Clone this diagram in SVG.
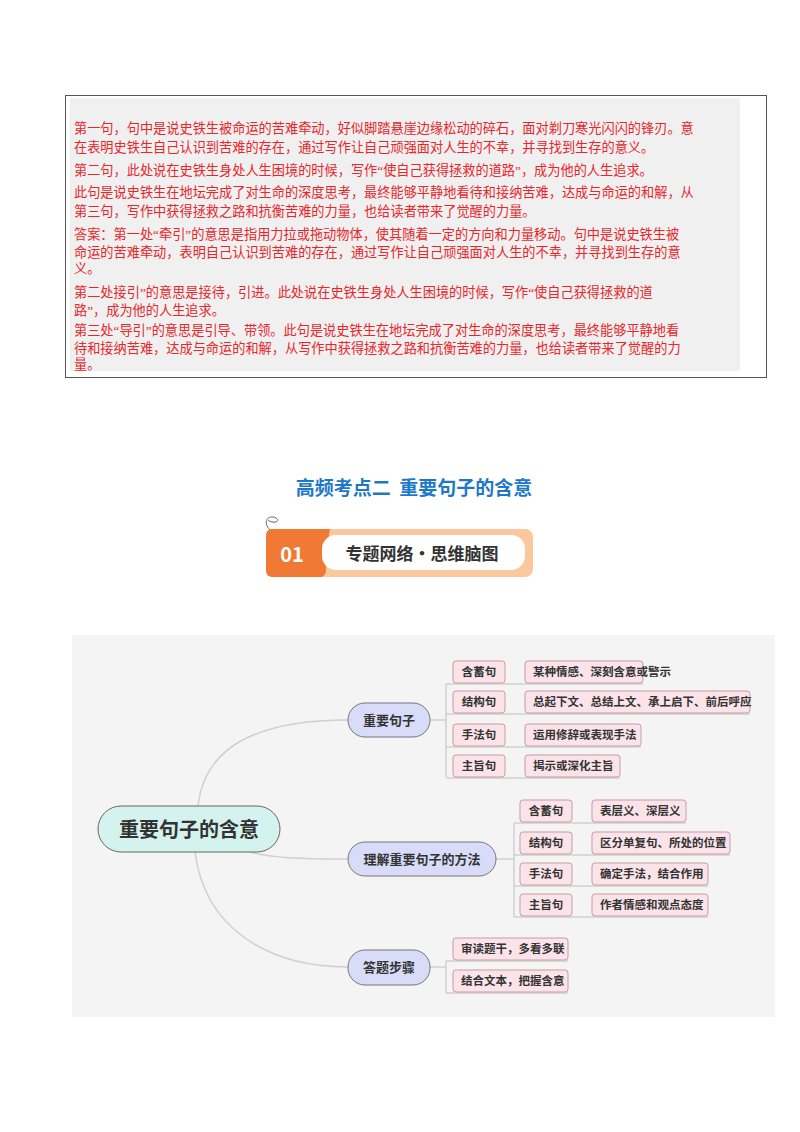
<svg xmlns="http://www.w3.org/2000/svg" width="800" height="1132" viewBox="0 0 800 1132">
<style>
.r{font-family:"Liberation Serif","Noto Sans CJK SC",serif;font-size:13.2px;fill:#e8262b}
.cn{font-family:"Noto Sans CJK SC",sans-serif;font-weight:bold;fill:#333}
.l{fill:#fbe3ea;stroke:#c99aa8;stroke-width:1}
.b{fill:#d9dcf8;stroke:#777;stroke-width:1}
.c{fill:none;stroke:#cfcfcf;stroke-width:1.5}
</style>
<rect width="800" height="1132" fill="#fff"/>
<rect x="65.5" y="95.5" width="701" height="282" fill="#fff" stroke="#555"/>
<rect x="70" y="98" width="670" height="273" fill="#f0f0f0"/>
<text class="r" x="74" y="133">第一句，句中是说史铁生被命运的苦难牵动，好似脚踏悬崖边缘松动的碎石，面对剃刀寒光闪闪的锋刃。意</text>
<text class="r" x="74" y="152">在表明史铁生自己认识到苦难的存在，通过写作让自己顽强面对人生的不幸，并寻找到生存的意义。</text>
<text class="r" x="74" y="175">第二句，此处说在史铁生身处人生困境的时候，写作“使自己获得拯救的道路”，成为他的人生追求。</text>
<text class="r" x="74" y="197">此句是说史铁生在地坛完成了对生命的深度思考，最终能够平静地看待和接纳苦难，达成与命运的和解，从</text>
<text class="r" x="74" y="216">第三句，写作中获得拯救之路和抗衡苦难的力量，也给读者带来了觉醒的力量。</text>
<text class="r" x="74" y="239">答案：第一处“牵引”的意思是指用力拉或拖动物体，使其随着一定的方向和力量移动。句中是说史铁生被</text>
<text class="r" x="74" y="257">命运的苦难牵动，表明自己认识到苦难的存在，通过写作让自己顽强面对人生的不幸，并寻找到生存的意</text>
<text class="r" x="74" y="273">义。</text>
<text class="r" x="74" y="297">第二处接引”的意思是接待，引进。此处说在史铁生身处人生困境的时候，写作“使自己获得拯救的道</text>
<text class="r" x="74" y="315">路”，成为他的人生追求。</text>
<text class="r" x="74" y="335">第三处“导引”的意思是引导、带领。此句是说史铁生在地坛完成了对生命的深度思考，最终能够平静地看</text>
<text class="r" x="74" y="353">待和接纳苦难，达成与命运的和解，从写作中获得拯救之路和抗衡苦难的力量，也给读者带来了觉醒的力</text>
<text class="r" x="74" y="369">量。</text>
<text x="414" y="495" text-anchor="middle" font-family="Noto Sans CJK SC,sans-serif" font-weight="bold" font-size="19" fill="#1e78c8" xml:space="preserve">高频考点二  重要句子的含意</text>
<g id="banner">
<rect x="266" y="529" width="267" height="48" rx="8" fill="#fbc79c"/>
<rect x="266" y="529" width="60" height="48" rx="6" fill="#f07a35"/>
<path d="M312 529 L330 529 L322 577 L300 577 Z" fill="#f07a35"/>
<rect x="322" y="535" width="203" height="35" rx="14" fill="#fff"/>
<text x="292" y="562" text-anchor="middle" font-family="Noto Sans CJK SC,sans-serif" font-weight="bold" font-size="20" fill="#fff">01</text>
<text x="422" y="560" text-anchor="middle" class="cn" font-size="17" fill="#222">专题网络·思维脑图</text>
<path d="M270 530 C262 522 268 514 276 518 C282 522 272 524 268 520" fill="none" stroke="#666" stroke-width="1"/>
</g>
<rect x="72" y="635" width="703" height="382" fill="#f4f4f4"/>
<g id="connectors">
<path class="c" d="M198 806 C205 740 270 720 348 720"/>
<path class="c" d="M250 852 C270 858 300 859 348 859"/>
<path class="c" d="M195 852 C205 930 270 967 348 967"/>
<path class="c" d="M430 720 L446 720 M446 684 L446 777 M446 684 L643 684 M446 714 L750 714 M446 747 L641 747 M446 778 L620 778"/>
<path class="c" d="M496 859 L514 859 M514 823 L514 917 M514 823 L686 823 M514 855 L730 855 M514 886 L708 886 M514 917 L708 917"/>
<path class="c" d="M430 967 L446 967 M446 961 L446 993 M446 961 L568 961 M446 993 L568 993"/>
</g>
<g id="main"><rect x="98" y="806" width="182" height="46" rx="23" fill="#d5f3ee" stroke="#666"/><text x="189" y="837" text-anchor="middle" class="cn" font-size="20" fill="#111">重要句子的含意</text></g>
<g id="b1"><rect class="b" x="348" y="703" width="82" height="34" rx="17"/><text x="389" y="725" text-anchor="middle" class="cn" font-size="13">重要句子</text></g>
<g id="b2"><rect class="b" x="348" y="842" width="148" height="34" rx="17"/><text x="422" y="864" text-anchor="middle" class="cn" font-size="13">理解重要句子的方法</text></g>
<g id="b3"><rect class="b" x="348" y="950" width="82" height="35" rx="17"/><text x="389" y="972" text-anchor="middle" class="cn" font-size="13">答题步骤</text></g>
<g font-size="11.5">
<g id="n1"><rect class="l" x="453" y="661" width="52" height="22" rx="3"/><text class="cn" x="479" y="676" text-anchor="middle">含蓄句</text></g>
<g id="n2"><rect class="l" x="525" y="661" width="118" height="22" rx="3"/><text class="cn" x="533" y="676">某种情感、深刻含意或警示</text></g>
<g id="n3"><rect class="l" x="453" y="691" width="52" height="22" rx="3"/><text class="cn" x="479" y="706" text-anchor="middle">结构句</text></g>
<g id="n4"><rect class="l" x="525" y="691" width="225" height="22" rx="3"/><text class="cn" x="533" y="706">总起下文、总结上文、承上启下、前后呼应</text></g>
<g id="n5"><rect class="l" x="453" y="724" width="52" height="22" rx="3"/><text class="cn" x="479" y="739" text-anchor="middle">手法句</text></g>
<g id="n6"><rect class="l" x="525" y="724" width="116" height="22" rx="3"/><text class="cn" x="533" y="739">运用修辞或表现手法</text></g>
<g id="n7"><rect class="l" x="453" y="755" width="52" height="22" rx="3"/><text class="cn" x="479" y="770" text-anchor="middle">主旨句</text></g>
<g id="n8"><rect class="l" x="525" y="755" width="95" height="22" rx="3"/><text class="cn" x="533" y="770">揭示或深化主旨</text></g>
<g id="m1"><rect class="l" x="520" y="800" width="52" height="22" rx="3"/><text class="cn" x="546" y="815" text-anchor="middle">含蓄句</text></g>
<g id="m2"><rect class="l" x="592" y="800" width="94" height="22" rx="3"/><text class="cn" x="600" y="815">表层义、深层义</text></g>
<g id="m3"><rect class="l" x="520" y="832" width="52" height="22" rx="3"/><text class="cn" x="546" y="847" text-anchor="middle">结构句</text></g>
<g id="m4"><rect class="l" x="592" y="832" width="138" height="22" rx="3"/><text class="cn" x="600" y="847">区分单复句、所处的位置</text></g>
<g id="m5"><rect class="l" x="520" y="863" width="52" height="22" rx="3"/><text class="cn" x="546" y="878" text-anchor="middle">手法句</text></g>
<g id="m6"><rect class="l" x="592" y="863" width="116" height="22" rx="3"/><text class="cn" x="600" y="878">确定手法，结合作用</text></g>
<g id="m7"><rect class="l" x="520" y="894" width="52" height="22" rx="3"/><text class="cn" x="546" y="909" text-anchor="middle">主旨句</text></g>
<g id="m8"><rect class="l" x="592" y="894" width="116" height="22" rx="3"/><text class="cn" x="600" y="909">作者情感和观点态度</text></g>
<g id="s1"><rect class="l" x="453" y="938" width="115" height="22" rx="3"/><text class="cn" x="461" y="953">审读题干，多看多联</text></g>
<g id="s2"><rect class="l" x="453" y="970" width="115" height="22" rx="3"/><text class="cn" x="461" y="985">结合文本，把握含意</text></g>
</g>
</svg>
